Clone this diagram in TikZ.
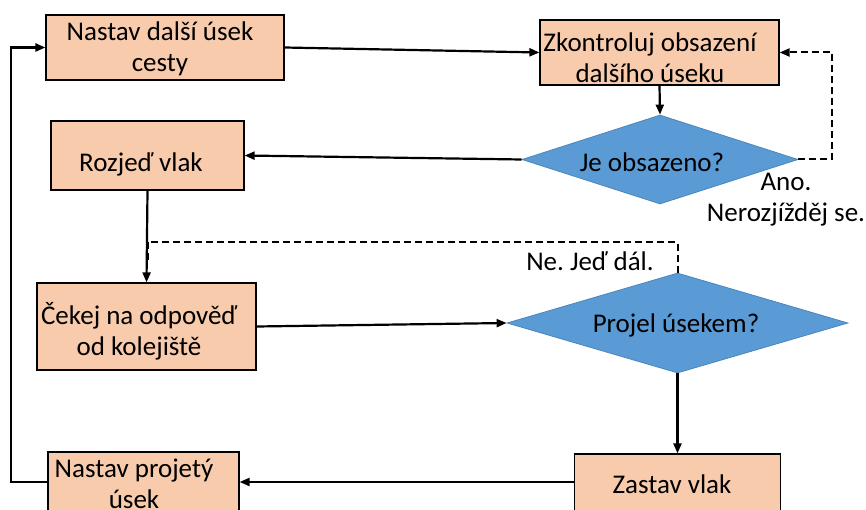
\documentclass[tikz,border=0pt]{standalone}
\usepackage{fontspec}
\setmainfont{Carlito}
\frenchspacing
\usetikzlibrary{shapes.geometric,arrows.meta}
\definecolor{peach}{HTML}{F8CBAD}
\definecolor{dblue}{HTML}{5B9BD5}
\definecolor{dblueline}{HTML}{4A85BD}
\begin{document}
\begin{tikzpicture}[x=1pt,y=-1pt,
  box/.style={rectangle, draw=black, line width=1.2pt, fill=peach, inner sep=0pt},
  dia/.style={diamond, draw=dblueline, line width=0.8pt, fill=dblue, inner sep=0pt},
  txt/.style={align=center, inner sep=0pt, font=\fontsize{27}{31}\selectfont},
  conn/.style={draw=black, line width=2.2pt, -{Triangle[length=10pt,width=8pt]}},
  dconn/.style={draw=black, line width=2pt, dash pattern=on 7pt off 4pt},
]
\useasboundingbox (0,0) rectangle (866,510);
% boxes
\node[box, minimum width=238pt, minimum height=65pt] (A) at (165,47.5) {};
\node[box, minimum width=239pt, minimum height=65pt] (B) at (659.5,52.5) {};
\node[box, minimum width=193pt, minimum height=69pt] (C) at (147.5,155.5) {};
\node[box, minimum width=219pt, minimum height=87pt] (D) at (146.5,326.5) {};
\node[box, minimum width=206pt, minimum height=80pt] (E) at (677.5,494) {};
\node[box, minimum width=191pt, minimum height=80pt] (F) at (143.5,492) {};
% diamonds
\node[dia, minimum width=276pt, minimum height=89pt] (D1) at (660,159.5) {};
\node[dia, minimum width=341pt, minimum height=100pt] (D2) at (677.5,323) {};
% texts
\node[txt] (tA) at (160,48.5) {Nastav další úsek\\cesty};
\node[txt] (tB) at (650,58) {Zkontroluj obsazení\\dalšího úseku};
\node[txt] (tC) at (141,164) {Rozjeď vlak};
\node[txt] (tD) at (139,331) {Čekej na odpověď\\od kolejiště};
\node[txt] (tE) at (672,484) {Zastav vlak};
\node[txt] (tF) at (134,484) {Nastav projetý\\úsek};
\node[txt] (tD1) at (652,162) {Je obsazeno?};
\node[txt] (tD2) at (676,325) {Projel úsekem?};
\node[txt] (lAno) at (786,200) {Ano.\\Nerozjížděj se.};
\node[txt] (lNe) at (590,261) {Ne. Jeď dál.};
% helper coordinates
\coordinate (Y) at (0,482);
\coordinate (L) at (11,0);
\coordinate (R) at (832,0);
\coordinate (T) at (0,242);
% connectors
\draw[conn] (A.east) -- (B.west);
\draw[conn] (B.south) -- (D1.north);
\draw[conn] (D1.west) -- (C.east);
\draw[conn] (C.south) -- (D.north);
\draw[conn] (D.east) -- (D2.west);
\draw[conn] (D2.south) -- (E.north);
\draw[conn] (E.west |- Y) -- (F.east |- Y);
\draw[conn] (F.west |- Y) -- (L |- Y) -- (L |- A.west) -- (A.west);
\draw[dconn, -{Triangle[length=10pt,width=8pt]}] (D1.east) -- (R |- D1.east) -- (R |- B.east) -- (B.east);
\draw[dconn] (D2.north) -- (D2.north |- T) -- (C.south |- T) -- ([yshift=-20pt]C.south |- T);
\end{tikzpicture}
\end{document}
